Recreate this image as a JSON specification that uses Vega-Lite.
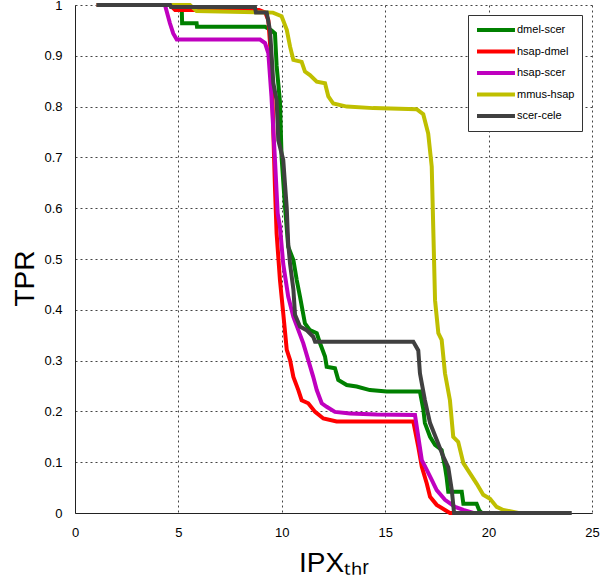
{
  "$schema": "https://vega.github.io/schema/vega-lite/v6.json",
  "autosize": {"type": "none"},
  "padding": {"left": 75, "top": 5, "right": 8, "bottom": 71},
  "width": 517,
  "height": 508,
  "background": "white",
  "config": {
    "view": {"stroke": null},
    "font": "Liberation Sans",
    "axis": {
      "grid": true,
      "gridColor": "#444444",
      "gridDash": [2, 3],
      "gridWidth": 1,
      "gridOpacity": 1,
      "domainColor": "#222222",
      "domainWidth": 1,
      "ticks": false,
      "labelFlush": false,
      "labelOverlap": false,
      "labelFont": "Liberation Sans",
      "labelFontSize": 13,
      "labelColor": "#000000",
      "titleFont": "Liberation Sans",
      "titleFontWeight": "normal",
      "titleFontSize": 28,
      "titleColor": "#000000"
    }
  },
  "data": {
    "values": [
      {"s": "dmel-scer", "x": 1.05, "y": 1},
      {"s": "dmel-scer", "x": 4.6, "y": 1},
      {"s": "dmel-scer", "x": 4.65, "y": 0.996},
      {"s": "dmel-scer", "x": 5.16, "y": 0.996},
      {"s": "dmel-scer", "x": 5.18, "y": 0.964},
      {"s": "dmel-scer", "x": 5.88, "y": 0.964},
      {"s": "dmel-scer", "x": 5.9, "y": 0.957},
      {"s": "dmel-scer", "x": 9.19, "y": 0.957},
      {"s": "dmel-scer", "x": 9.5, "y": 0.95},
      {"s": "dmel-scer", "x": 9.67, "y": 0.944},
      {"s": "dmel-scer", "x": 9.75, "y": 0.88},
      {"s": "dmel-scer", "x": 9.91, "y": 0.81},
      {"s": "dmel-scer", "x": 9.99, "y": 0.7},
      {"s": "dmel-scer", "x": 10.16, "y": 0.6},
      {"s": "dmel-scer", "x": 10.31, "y": 0.524},
      {"s": "dmel-scer", "x": 10.56, "y": 0.498},
      {"s": "dmel-scer", "x": 10.72, "y": 0.459},
      {"s": "dmel-scer", "x": 10.88, "y": 0.426},
      {"s": "dmel-scer", "x": 11.12, "y": 0.373},
      {"s": "dmel-scer", "x": 11.36, "y": 0.36},
      {"s": "dmel-scer", "x": 11.69, "y": 0.354},
      {"s": "dmel-scer", "x": 11.85, "y": 0.334},
      {"s": "dmel-scer", "x": 12.09, "y": 0.308},
      {"s": "dmel-scer", "x": 12.17, "y": 0.288},
      {"s": "dmel-scer", "x": 12.57, "y": 0.285},
      {"s": "dmel-scer", "x": 12.73, "y": 0.262},
      {"s": "dmel-scer", "x": 13.14, "y": 0.252},
      {"s": "dmel-scer", "x": 13.62, "y": 0.249},
      {"s": "dmel-scer", "x": 14.26, "y": 0.242},
      {"s": "dmel-scer", "x": 15.07, "y": 0.239},
      {"s": "dmel-scer", "x": 16.68, "y": 0.239},
      {"s": "dmel-scer", "x": 16.84, "y": 0.205},
      {"s": "dmel-scer", "x": 16.92, "y": 0.177},
      {"s": "dmel-scer", "x": 17.17, "y": 0.15},
      {"s": "dmel-scer", "x": 17.41, "y": 0.134},
      {"s": "dmel-scer", "x": 17.73, "y": 0.124},
      {"s": "dmel-scer", "x": 17.89, "y": 0.091},
      {"s": "dmel-scer", "x": 17.97, "y": 0.07},
      {"s": "dmel-scer", "x": 18.05, "y": 0.042},
      {"s": "dmel-scer", "x": 18.7, "y": 0.042},
      {"s": "dmel-scer", "x": 18.78, "y": 0.018},
      {"s": "dmel-scer", "x": 19.42, "y": 0.018},
      {"s": "dmel-scer", "x": 19.55, "y": 0.005},
      {"s": "dmel-scer", "x": 19.67, "y": 0},
      {"s": "dmel-scer", "x": 20.0, "y": 0},

      {"s": "hsap-dmel", "x": 1.05, "y": 1},
      {"s": "hsap-dmel", "x": 4.6, "y": 1},
      {"s": "hsap-dmel", "x": 4.84, "y": 0.99},
      {"s": "hsap-dmel", "x": 8.9, "y": 0.99},
      {"s": "hsap-dmel", "x": 9.2, "y": 0.985},
      {"s": "hsap-dmel", "x": 9.35, "y": 0.97},
      {"s": "hsap-dmel", "x": 9.51, "y": 0.88},
      {"s": "hsap-dmel", "x": 9.59, "y": 0.75},
      {"s": "hsap-dmel", "x": 9.67, "y": 0.64},
      {"s": "hsap-dmel", "x": 9.75, "y": 0.55},
      {"s": "hsap-dmel", "x": 9.91, "y": 0.459},
      {"s": "hsap-dmel", "x": 10.07, "y": 0.393},
      {"s": "hsap-dmel", "x": 10.24, "y": 0.321},
      {"s": "hsap-dmel", "x": 10.4, "y": 0.301},
      {"s": "hsap-dmel", "x": 10.56, "y": 0.268},
      {"s": "hsap-dmel", "x": 10.8, "y": 0.242},
      {"s": "hsap-dmel", "x": 10.96, "y": 0.222},
      {"s": "hsap-dmel", "x": 11.28, "y": 0.216},
      {"s": "hsap-dmel", "x": 11.61, "y": 0.199},
      {"s": "hsap-dmel", "x": 12.01, "y": 0.186},
      {"s": "hsap-dmel", "x": 12.65, "y": 0.18},
      {"s": "hsap-dmel", "x": 16.36, "y": 0.18},
      {"s": "hsap-dmel", "x": 16.6, "y": 0.13},
      {"s": "hsap-dmel", "x": 16.77, "y": 0.091},
      {"s": "hsap-dmel", "x": 17.01, "y": 0.058},
      {"s": "hsap-dmel", "x": 17.17, "y": 0.032},
      {"s": "hsap-dmel", "x": 17.49, "y": 0.016},
      {"s": "hsap-dmel", "x": 17.89, "y": 0.006},
      {"s": "hsap-dmel", "x": 18.13, "y": 0},
      {"s": "hsap-dmel", "x": 18.5, "y": 0},

      {"s": "hsap-scer", "x": 1.05, "y": 1},
      {"s": "hsap-scer", "x": 4.35, "y": 1},
      {"s": "hsap-scer", "x": 4.59, "y": 0.964},
      {"s": "hsap-scer", "x": 4.75, "y": 0.944},
      {"s": "hsap-scer", "x": 4.92, "y": 0.932},
      {"s": "hsap-scer", "x": 8.95, "y": 0.932},
      {"s": "hsap-scer", "x": 9.19, "y": 0.925},
      {"s": "hsap-scer", "x": 9.35, "y": 0.905},
      {"s": "hsap-scer", "x": 9.5, "y": 0.82},
      {"s": "hsap-scer", "x": 9.67, "y": 0.695},
      {"s": "hsap-scer", "x": 9.8, "y": 0.59},
      {"s": "hsap-scer", "x": 9.91, "y": 0.564},
      {"s": "hsap-scer", "x": 10.07, "y": 0.49},
      {"s": "hsap-scer", "x": 10.31, "y": 0.426},
      {"s": "hsap-scer", "x": 10.56, "y": 0.386},
      {"s": "hsap-scer", "x": 10.8, "y": 0.36},
      {"s": "hsap-scer", "x": 11.04, "y": 0.334},
      {"s": "hsap-scer", "x": 11.28, "y": 0.301},
      {"s": "hsap-scer", "x": 11.52, "y": 0.268},
      {"s": "hsap-scer", "x": 11.69, "y": 0.242},
      {"s": "hsap-scer", "x": 11.93, "y": 0.216},
      {"s": "hsap-scer", "x": 12.17, "y": 0.209},
      {"s": "hsap-scer", "x": 12.57, "y": 0.199},
      {"s": "hsap-scer", "x": 13.3, "y": 0.196},
      {"s": "hsap-scer", "x": 14.59, "y": 0.194},
      {"s": "hsap-scer", "x": 16.44, "y": 0.193},
      {"s": "hsap-scer", "x": 16.6, "y": 0.15},
      {"s": "hsap-scer", "x": 16.77, "y": 0.104},
      {"s": "hsap-scer", "x": 17.01, "y": 0.085},
      {"s": "hsap-scer", "x": 17.25, "y": 0.065},
      {"s": "hsap-scer", "x": 17.49, "y": 0.045},
      {"s": "hsap-scer", "x": 17.89, "y": 0.026},
      {"s": "hsap-scer", "x": 18.38, "y": 0.012},
      {"s": "hsap-scer", "x": 18.78, "y": 0.006},
      {"s": "hsap-scer", "x": 19.26, "y": 0},

      {"s": "mmus-hsap", "x": 1.05, "y": 1},
      {"s": "mmus-hsap", "x": 5.56, "y": 1},
      {"s": "mmus-hsap", "x": 5.88, "y": 0.988},
      {"s": "mmus-hsap", "x": 9.57, "y": 0.985},
      {"s": "mmus-hsap", "x": 9.99, "y": 0.978},
      {"s": "mmus-hsap", "x": 10.24, "y": 0.951},
      {"s": "mmus-hsap", "x": 10.4, "y": 0.918},
      {"s": "mmus-hsap", "x": 10.56, "y": 0.892},
      {"s": "mmus-hsap", "x": 10.96, "y": 0.888},
      {"s": "mmus-hsap", "x": 11.12, "y": 0.869},
      {"s": "mmus-hsap", "x": 11.36, "y": 0.862},
      {"s": "mmus-hsap", "x": 11.69, "y": 0.849},
      {"s": "mmus-hsap", "x": 12.09, "y": 0.846},
      {"s": "mmus-hsap", "x": 12.25, "y": 0.82},
      {"s": "mmus-hsap", "x": 12.49, "y": 0.806},
      {"s": "mmus-hsap", "x": 13.14, "y": 0.8},
      {"s": "mmus-hsap", "x": 14.42, "y": 0.797},
      {"s": "mmus-hsap", "x": 16.52, "y": 0.795},
      {"s": "mmus-hsap", "x": 16.84, "y": 0.785},
      {"s": "mmus-hsap", "x": 17.08, "y": 0.747},
      {"s": "mmus-hsap", "x": 17.25, "y": 0.682},
      {"s": "mmus-hsap", "x": 17.33, "y": 0.551},
      {"s": "mmus-hsap", "x": 17.41, "y": 0.419},
      {"s": "mmus-hsap", "x": 17.57, "y": 0.354},
      {"s": "mmus-hsap", "x": 17.73, "y": 0.341},
      {"s": "mmus-hsap", "x": 17.89, "y": 0.275},
      {"s": "mmus-hsap", "x": 18.13, "y": 0.222},
      {"s": "mmus-hsap", "x": 18.29, "y": 0.15},
      {"s": "mmus-hsap", "x": 18.53, "y": 0.14},
      {"s": "mmus-hsap", "x": 18.78, "y": 0.098},
      {"s": "mmus-hsap", "x": 19.1, "y": 0.078},
      {"s": "mmus-hsap", "x": 19.42, "y": 0.058},
      {"s": "mmus-hsap", "x": 19.74, "y": 0.036},
      {"s": "mmus-hsap", "x": 20.07, "y": 0.028},
      {"s": "mmus-hsap", "x": 20.39, "y": 0.012},
      {"s": "mmus-hsap", "x": 20.71, "y": 0.006},
      {"s": "mmus-hsap", "x": 21.44, "y": 0},

      {"s": "scer-cele", "x": 1.05, "y": 1},
      {"s": "scer-cele", "x": 4.6, "y": 1},
      {"s": "scer-cele", "x": 4.65, "y": 0.996},
      {"s": "scer-cele", "x": 8.7, "y": 0.996},
      {"s": "scer-cele", "x": 8.75, "y": 0.985},
      {"s": "scer-cele", "x": 9.27, "y": 0.985},
      {"s": "scer-cele", "x": 9.43, "y": 0.95},
      {"s": "scer-cele", "x": 9.59, "y": 0.846},
      {"s": "scer-cele", "x": 9.75, "y": 0.813},
      {"s": "scer-cele", "x": 9.83, "y": 0.734},
      {"s": "scer-cele", "x": 10.07, "y": 0.695},
      {"s": "scer-cele", "x": 10.15, "y": 0.65},
      {"s": "scer-cele", "x": 10.24, "y": 0.6},
      {"s": "scer-cele", "x": 10.31, "y": 0.53},
      {"s": "scer-cele", "x": 10.4, "y": 0.49},
      {"s": "scer-cele", "x": 10.56, "y": 0.44},
      {"s": "scer-cele", "x": 10.64, "y": 0.39},
      {"s": "scer-cele", "x": 10.88, "y": 0.367},
      {"s": "scer-cele", "x": 11.2, "y": 0.36},
      {"s": "scer-cele", "x": 11.52, "y": 0.347},
      {"s": "scer-cele", "x": 11.61, "y": 0.337},
      {"s": "scer-cele", "x": 16.36, "y": 0.337},
      {"s": "scer-cele", "x": 16.6, "y": 0.32},
      {"s": "scer-cele", "x": 16.68, "y": 0.275},
      {"s": "scer-cele", "x": 16.92, "y": 0.222},
      {"s": "scer-cele", "x": 17.17, "y": 0.177},
      {"s": "scer-cele", "x": 17.49, "y": 0.144},
      {"s": "scer-cele", "x": 17.81, "y": 0.111},
      {"s": "scer-cele", "x": 18.05, "y": 0.09},
      {"s": "scer-cele", "x": 18.22, "y": 0.045},
      {"s": "scer-cele", "x": 18.33, "y": 0},
      {"s": "scer-cele", "x": 24.02, "y": 0}
    ]
  },
  "mark": {"type": "line", "strokeWidth": 4, "strokeJoin": "miter", "clip": false},
  "encoding": {
    "x": {
      "field": "x",
      "type": "quantitative",
      "scale": {"domain": [0, 25], "nice": false, "zero": false},
      "axis": {"values": [0, 5, 10, 15, 20, 25], "title": "IPXₜₕᵣ", "labelPadding": 13, "titlePadding": 10}
    },
    "y": {
      "field": "y",
      "type": "quantitative",
      "scale": {"domain": [0, 1], "nice": false},
      "axis": {"values": [0, 0.1, 0.2, 0.3, 0.4, 0.5, 0.6, 0.7, 0.8, 0.9, 1], "format": "~g", "title": "TPR", "labelPadding": 13, "titlePadding": 4, "titleY": 273}
    },
    "color": {
      "field": "s",
      "type": "nominal",
      "scale": {
        "domain": ["dmel-scer", "hsap-dmel", "hsap-scer", "mmus-hsap", "scer-cele"],
        "range": ["#008000", "#ff0000", "#bf00bf", "#bfbf00", "#404040"]
      },
      "legend": {
        "title": null,
        "orient": "top-right",
        "offset": 10,
        "fillColor": "white",
        "strokeColor": "#333333",
        "padding": 7,
        "symbolType": "M-1,0H5.33",
        "symbolSize": 144,
        "symbolStrokeWidth": 4,
        "symbolFillColor": "transparent",
        "labelFontSize": 11,
        "labelFont": "Liberation Sans",
        "labelColor": "#000000",
        "labelOffset": 26,
        "rowPadding": 5.5
      }
    }
  }
}
